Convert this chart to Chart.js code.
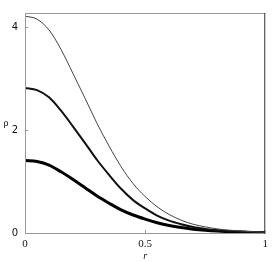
<!DOCTYPE html>
<html>
<head>
<meta charset="utf-8">
<script src="https://cdn.jsdelivr.net/npm/chart.js@4"></script>
<style>
  html, body { margin: 0; padding: 0; background: #fff; }
  #wrap { width: 273px; height: 262px; }
</style>
</head>
<body>
<div id="wrap"><canvas id="chart" width="273" height="262"></canvas></div>
<script>
// radius values (x axis)
const rValues = [0, 0.05, 0.1, 0.15, 0.2, 0.25, 0.3, 0.35, 0.4, 0.45, 0.5,
                 0.55, 0.6, 0.65, 0.7, 0.75, 0.8, 0.85, 0.9, 0.95, 1];
// density curves
const rhoHigh = [4.22, 4.16, 3.95, 3.57, 3.10, 2.62, 2.13, 1.69, 1.29, 0.96, 0.71,
                 0.51, 0.36, 0.25, 0.17, 0.12, 0.08, 0.055, 0.038, 0.025, 0.017];
const rhoMid = [2.82, 2.78, 2.64, 2.38, 2.07, 1.75, 1.42, 1.13, 0.86, 0.64, 0.48,
                0.34, 0.24, 0.17, 0.115, 0.08, 0.054, 0.037, 0.025, 0.017, 0.011];
const rhoLow = [1.41, 1.39, 1.32, 1.19, 1.04, 0.88, 0.72, 0.58, 0.45, 0.35, 0.27,
                0.20, 0.145, 0.105, 0.075, 0.053, 0.037, 0.026, 0.018, 0.012, 0.008];
const xTicks = [0, 0.5, 1];
const yTicks = [0, 2, 4];

const toPoints = ys => rValues.map((r, i) => ({ x: r, y: ys[i] }));

const SERIF = "'Liberation Serif', 'Times New Roman', 'DejaVu Serif', serif";

// frame, small inward ticks and axis labels
const framePlugin = {
    id: 'frame',
    afterDraw(chart) {
        const { ctx, chartArea: a, scales } = chart;
        ctx.save();
        ctx.lineWidth = 1;
        ctx.strokeStyle = '#999';
        ctx.beginPath();
        ctx.moveTo(a.left + 0.5, a.top + 0.5);
        ctx.lineTo(a.right, a.top + 0.5);
        ctx.moveTo(a.left + 0.5, a.top);
        ctx.lineTo(a.left + 0.5, a.bottom + 0.5);
        ctx.lineTo(a.right, a.bottom + 0.5);
        ctx.stroke();
        ctx.strokeStyle = '#333';
        ctx.beginPath();
        ctx.moveTo(a.right - 0.5, a.top);
        ctx.lineTo(a.right - 0.5, a.bottom + 1);
        ctx.stroke();
        // tiny ticks
        ctx.strokeStyle = '#999';
        ctx.beginPath();
        yTicks.forEach(v => {
            const y = Math.round(scales.y.getPixelForValue(v)) + 0.5;
            ctx.moveTo(a.left, y);
            ctx.lineTo(a.left + 3, y);
        });
        xTicks.forEach(v => {
            const x = Math.round(scales.x.getPixelForValue(v)) + 0.5;
            ctx.moveTo(x, a.bottom);
            ctx.lineTo(x, a.bottom - 3);
        });
        ctx.stroke();
        ctx.fillStyle = '#111';
        ctx.textAlign = 'center';
        ctx.textBaseline = 'middle';
        ctx.font = '10px ' + SERIF;
        ctx.fillText('ρ', 6, 123);
        ctx.font = 'italic 10px ' + SERIF;
        ctx.fillText('r', (a.left + a.right) / 2, 256);
        ctx.restore();
    }
};

function draw() {
    new Chart(document.getElementById('chart'), {
        type: 'line',
        data: {
            datasets: [
                { data: toPoints(rhoHigh), borderColor: '#444', borderWidth: 1 },
                { data: toPoints(rhoMid), borderColor: '#111', borderWidth: 2 },
                { data: toPoints(rhoLow), borderColor: '#000', borderWidth: 3 }
            ]
        },
        options: {
            responsive: false,
            animation: false,
            devicePixelRatio: 1,
            layout: { padding: { top: 4, right: 7, left: 0, bottom: 0 } },
            elements: {
                point: { radius: 0 },
                line: { cubicInterpolationMode: 'monotone', fill: false }
            },
            plugins: { legend: { display: false }, tooltip: { enabled: false } },
            scales: {
                x: {
                    type: 'linear',
                    min: 0,
                    max: 1,
                    afterBuildTicks: s => { s.ticks = xTicks.map(v => ({ value: v })); },
                    afterFit: s => { s.height = 29; },
                    grid: { display: false, drawTicks: false },
                    border: { display: false },
                    ticks: {
                        padding: 5,
                        color: '#111',
                        font: { family: SERIF, size: 11 },
                        callback: v => String(v)
                    }
                },
                y: {
                    min: 0,
                    max: 4.28,
                    afterBuildTicks: s => { s.ticks = yTicks.map(v => ({ value: v })); },
                    afterFit: s => { s.width = 25; },
                    grid: { display: false, drawTicks: false },
                    border: { display: false },
                    ticks: {
                        padding: 7,
                        color: '#111',
                        font: { family: "'DejaVu Sans', sans-serif", size: 10 },
                        callback: v => String(v)
                    }
                }
            }
        },
        plugins: [framePlugin]
    });
}

Promise.all([
    document.fonts.load('11px "Liberation Serif"'),
    document.fonts.load('italic 10px "Liberation Serif"')
]).then(draw, draw);
</script>
</body>
</html>
